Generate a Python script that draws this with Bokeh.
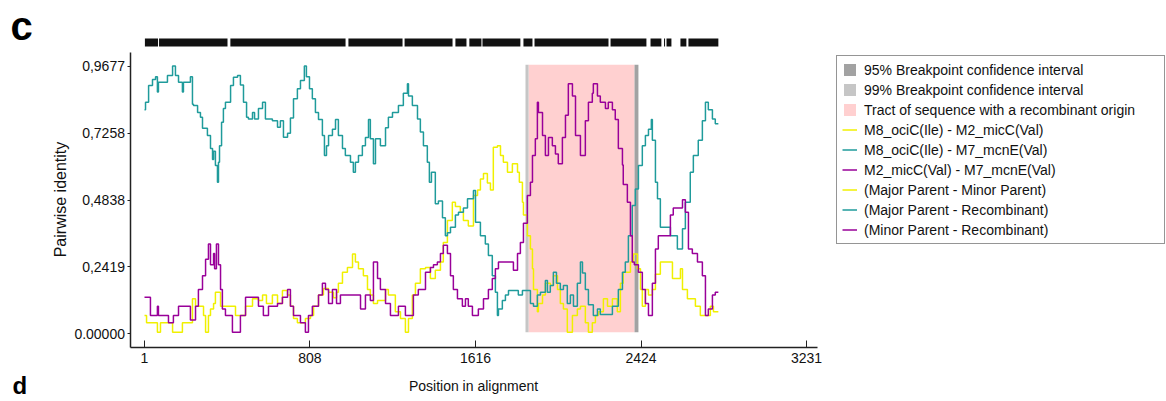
import math
from bokeh.plotting import figure
from bokeh.models import Range1d, FixedTicker, Legend, LegendItem, Label
from bokeh.embed import file_html
from bokeh.resources import INLINE

# ---------------- data ----------------
x_ticks = [1, 808, 1616, 2424, 3231]
y_ticks = [0.0, 0.2419, 0.4838, 0.7258, 0.9677]
y_tick_labels = ["0.00000", "0,2419", "0,4838", "0,7258", "0,9677"]

# (Major Parent - Recombinant)  teal
teal_x = [1, 6, 21, 40, 55, 64, 69, 113, 138, 152,
          167, 186, 191, 225, 235, 240, 260, 274, 284, 308,
          323, 333, 338, 347, 357, 362, 367, 377, 386, 396,
          421, 435, 455, 469, 484, 499, 508, 528, 538, 557,
          577, 591, 625, 650, 664, 679, 699, 713, 728, 747,
          762, 781, 791, 806, 820, 835, 850, 869, 879, 889,
          899, 918, 933, 947, 967, 981, 1006, 1020, 1030, 1045,
          1064, 1079, 1094, 1103, 1118, 1128, 1152, 1177, 1191, 1211,
          1240, 1264, 1284, 1289, 1308, 1333, 1347, 1362, 1381, 1391,
          1401, 1420, 1435, 1455, 1469, 1479, 1494, 1518, 1533, 1557,
          1577, 1606, 1616, 1640, 1664, 1679, 1698, 1713, 1723, 1728,
          1747, 1762, 1777, 1825, 1845, 1884, 1899, 1918, 1933, 1957,
          1967, 1981, 1996, 2011, 2030, 2045, 2064, 2079, 2094, 2113,
          2128, 2138, 2152, 2167, 2191, 2211, 2225, 2284, 2313, 2333,
          2347, 2362, 2381, 2396, 2411, 2430, 2445, 2460, 2474, 2479,
          2494, 2504, 2518, 2567, 2601, 2626, 2640, 2664, 2679, 2703,
          2723, 2738, 2752, 2772, 2786, 2801]
teal_y = [0.81, 0.837, 0.898, 0.92, 0.93, 0.874, 0.91, 0.934, 0.968, 0.934,
          0.91, 0.874, 0.91, 0.93, 0.83, 0.826, 0.80, 0.783, 0.743, 0.717,
          0.67, 0.63, 0.66, 0.609, 0.548, 0.62, 0.68, 0.765, 0.815, 0.837,
          0.898, 0.928, 0.934, 0.90, 0.837, 0.783, 0.777, 0.80, 0.777, 0.815,
          0.837, 0.777, 0.77, 0.747, 0.77, 0.711, 0.725, 0.78, 0.85, 0.886,
          0.916, 0.968, 0.93, 0.886, 0.85, 0.80, 0.775, 0.717, 0.645, 0.68,
          0.717, 0.74, 0.775, 0.717, 0.67, 0.645, 0.62, 0.584, 0.62, 0.645,
          0.68, 0.71, 0.775, 0.705, 0.615, 0.705, 0.68, 0.745, 0.783, 0.80,
          0.826, 0.87, 0.904, 0.86, 0.826, 0.777, 0.73, 0.68, 0.62, 0.548,
          0.584, 0.47, 0.48, 0.42, 0.355, 0.365, 0.385, 0.43, 0.44, 0.455,
          0.488, 0.518, 0.403, 0.355, 0.325, 0.283, 0.21, 0.15, 0.066, 0.09,
          0.12, 0.14, 0.157, 0.14, 0.157, 0.11, 0.10, 0.14, 0.15, 0.193,
          0.15, 0.175, 0.223, 0.183, 0.16, 0.175, 0.11, 0.14, 0.10, 0.183,
          0.26, 0.22, 0.16, 0.105, 0.066, 0.09, 0.07, 0.10, 0.16, 0.223,
          0.26, 0.355, 0.464, 0.524, 0.609, 0.68, 0.717, 0.74, 0.775, 0.70,
          0.548, 0.488, 0.385, 0.355, 0.307, 0.38, 0.476, 0.584, 0.645, 0.70,
          0.77, 0.837, 0.81, 0.777, 0.76, 0.76]

# (Major Parent - Minor Parent)  yellow
yellow_x = [1, 11, 64, 79, 138, 186, 235, 250, 289, 299,
            313, 323, 338, 347, 372, 445, 494, 528, 557, 577,
            596, 625, 650, 674, 699, 713, 728, 747, 786, 811,
            826, 850, 874, 899, 923, 938, 947, 967, 991, 1016,
            1030, 1045, 1069, 1089, 1103, 1118, 1138, 1177, 1191, 1225,
            1250, 1274, 1289, 1308, 1323, 1347, 1372, 1396, 1420, 1445,
            1459, 1479, 1503, 1518, 1542, 1557, 1581, 1606, 1626, 1640,
            1655, 1674, 1689, 1703, 1723, 1738, 1752, 1772, 1796, 1821,
            1830, 1845, 1850, 1869, 1884, 1894, 1899, 1918, 1923, 1943,
            1957, 1981, 1996, 2016, 2030, 2045, 2064, 2089, 2113, 2128,
            2152, 2167, 2186, 2201, 2216, 2240, 2260, 2284, 2308, 2323,
            2337, 2372, 2386, 2406, 2421, 2430, 2445, 2460, 2479, 2494,
            2518, 2577, 2616, 2626, 2650, 2689, 2713, 2762, 2777, 2801]
yellow_y = [0.066, 0.04, 0.006, 0.04, 0.006, 0.04, 0.127, 0.10, 0.066, 0.006,
            0.066, 0.09, 0.11, 0.15, 0.10, 0.066, 0.10, 0.127, 0.12, 0.14,
            0.11, 0.14, 0.11, 0.157, 0.14, 0.10, 0.055, 0.04, 0.055, 0.066,
            0.10, 0.14, 0.164, 0.15, 0.13, 0.15, 0.183, 0.223, 0.24, 0.289,
            0.26, 0.235, 0.21, 0.16, 0.14, 0.11, 0.12, 0.16, 0.14, 0.08,
            0.055, 0.006, 0.055, 0.14, 0.183, 0.235, 0.24, 0.20, 0.23, 0.26,
            0.33, 0.41, 0.476, 0.46, 0.44, 0.41, 0.39, 0.50, 0.52, 0.56,
            0.58, 0.545, 0.52, 0.675, 0.68, 0.645, 0.62, 0.584, 0.615, 0.584,
            0.548, 0.476, 0.43, 0.355, 0.307, 0.235, 0.16, 0.08, 0.11, 0.14,
            0.183, 0.175, 0.21, 0.16, 0.11, 0.09, 0.006, 0.066, 0.09, 0.10,
            0.04, 0.006, 0.04, 0.066, 0.08, 0.127, 0.10, 0.127, 0.08, 0.183,
            0.223, 0.26, 0.289, 0.235, 0.16, 0.10, 0.16, 0.14, 0.16, 0.215,
            0.26, 0.20, 0.235, 0.16, 0.127, 0.10, 0.066, 0.10, 0.08, 0.08]

# (Minor Parent - Recombinant)  purple
purple_x = [1, 30, 64, 69, 118, 142, 167, 225, 250, 264,
            284, 299, 313, 323, 338, 343, 352, 362, 372, 381,
            396, 430, 469, 494, 557, 581, 606, 650, 674, 699,
            713, 728, 762, 786, 801, 820, 850, 869, 884, 899,
            918, 938, 957, 1055, 1079, 1103, 1118, 1138, 1152, 1177,
            1201, 1240, 1274, 1313, 1337, 1372, 1396, 1411, 1430, 1445,
            1459, 1479, 1494, 1508, 1528, 1552, 1567, 1581, 1601, 1630,
            1655, 1679, 1698, 1713, 1728, 1801, 1821, 1835, 1850, 1869,
            1884, 1894, 1908, 1918, 1923, 1943, 1957, 1972, 1991, 2006,
            2020, 2040, 2055, 2069, 2089, 2104, 2128, 2152, 2167, 2186,
            2191, 2211, 2225, 2250, 2264, 2284, 2298, 2313, 2333, 2337,
            2357, 2372, 2381, 2391, 2411, 2430, 2445, 2460, 2479, 2494,
            2508, 2567, 2581, 2626, 2640, 2655, 2674, 2699, 2723, 2738,
            2752, 2772, 2786, 2801]
purple_y = [0.132, 0.066, 0.10, 0.066, 0.04, 0.066, 0.10, 0.05, 0.10, 0.16,
            0.21, 0.27, 0.325, 0.25, 0.29, 0.235, 0.325, 0.25, 0.16, 0.09,
            0.066, 0.006, 0.066, 0.132, 0.10, 0.066, 0.10, 0.11, 0.132, 0.16,
            0.10, 0.066, 0.04, 0.006, 0.066, 0.10, 0.14, 0.183, 0.16, 0.11,
            0.16, 0.11, 0.14, 0.09, 0.14, 0.12, 0.26, 0.20, 0.16, 0.11,
            0.066, 0.10, 0.066, 0.14, 0.16, 0.223, 0.24, 0.25, 0.26, 0.29,
            0.32, 0.29, 0.21, 0.16, 0.127, 0.10, 0.127, 0.10, 0.066, 0.09,
            0.127, 0.16, 0.20, 0.235, 0.26, 0.23, 0.29, 0.33, 0.40, 0.50,
            0.548, 0.645, 0.705, 0.837, 0.80, 0.717, 0.645, 0.71, 0.68, 0.65,
            0.615, 0.71, 0.79, 0.904, 0.86, 0.717, 0.645, 0.77, 0.837, 0.87,
            0.904, 0.86, 0.837, 0.815, 0.837, 0.81, 0.775, 0.67, 0.61, 0.54,
            0.476, 0.355, 0.26, 0.25, 0.223, 0.16, 0.11, 0.066, 0.183, 0.307,
            0.355, 0.43, 0.455, 0.485, 0.44, 0.307, 0.29, 0.26, 0.21, 0.066,
            0.09, 0.14, 0.15, 0.15]

# informative sites bar above the plot (runs of sites)
site_start = [3, 72, 420, 996, 1270, 1518, 1586, 1650, 1850, 1904, 2275, 2470, 2536, 2548, 2616, 2655]
site_end = [67, 406, 982, 1260, 1504, 1572, 1645, 1835, 1894, 2265, 2450, 2523, 2541, 2572, 2645, 2801]

# recombination region
tract = (1875, 2392)
ci99 = (1860, 1875)
ci95 = (2392, 2411)
region_y = (0.006, 0.973)

legend_labels = ["95% Breakpoint confidence interval",
                 "99% Breakpoint confidence interval",
                 "Tract of sequence with a recombinant origin",
                 "M8_ociC(Ile) - M2_micC(Val)",
                 "M8_ociC(Ile) - M7_mcnE(Val)",
                 "M2_micC(Val) - M7_mcnE(Val)",
                 "(Major Parent - Minor Parent)",
                 "(Major Parent - Recombinant)",
                 "(Minor Parent - Recombinant)"]

# ---------------- styling ----------------
FONT = "Liberation Sans"
YELLOW = "#f0f000"
TEAL = "#1f9b9b"
PURPLE = "#990099"
W, H = 1166, 401

X0, X1 = -701.6, 4987.6
Y0, Y1 = -0.2448, 1.2053
X_AXIS_AT = -0.0485     # y value where the x axis line sits
Y_AXIS_AT = -64.9       # x value where the y axis line sits

p = figure(width=W, height=H, output_backend="svg", toolbar_location=None,
           x_range=Range1d(X0, X1), y_range=Range1d(Y0, Y1),
           min_border_left=0, min_border_right=0, min_border_top=0,
           min_border_bottom=0)
p.outline_line_color = None
p.grid.visible = False
p.background_fill_color = "white"
p.border_fill_color = "white"

# region rectangles
r_tract = p.quad(left=[tract[0]], right=[tract[1]], bottom=[region_y[0]], top=[region_y[1]],
                 fill_color="#ffd0d0", line_color=None)
r99 = p.quad(left=[ci99[0]], right=[ci99[1]], bottom=[region_y[0]], top=[region_y[1]],
             fill_color="#c6c6c6", line_color=None)
r95 = p.quad(left=[ci95[0]], right=[ci95[1]], bottom=[region_y[0]], top=[region_y[1]],
             fill_color="#a2a2a2", line_color=None)

# sites bar
p.quad(left=site_start, right=site_end, bottom=1.039, top=1.068,
       fill_color="#111111", line_color=None)

# lines
ry = p.step(yellow_x, yellow_y, mode="after", line_color=YELLOW, line_width=1.5)
rt = p.step(teal_x, teal_y, mode="after", line_color=TEAL, line_width=1.5)
rp = p.step(purple_x, purple_y, mode="after", line_color=PURPLE, line_width=1.5)

# axes (fixed inside the canvas-wide frame)
xa = p.xaxis[0]
xa.fixed_location = X_AXIS_AT
xa.ticker = FixedTicker(ticks=x_ticks)
xa.bounds = (Y_AXIS_AT, 3285)
xa.major_label_text_font = FONT
xa.major_label_text_font_size = "14px"
xa.major_label_text_color = "#111111"
xa.major_label_standoff = 6
xa.major_tick_in = 7
xa.major_tick_out = 0
xa.minor_tick_line_color = None
xa.axis_line_color = "#222222"
xa.axis_line_width = 1.5
xa.major_tick_line_color = "#222222"

ya = p.yaxis[0]
ya.fixed_location = Y_AXIS_AT
ya.ticker = FixedTicker(ticks=y_ticks)
ya.major_label_overrides = {t: s for t, s in zip(y_ticks, y_tick_labels)}
ya.bounds = (X_AXIS_AT, 1.0183)
ya.major_label_text_font = FONT
ya.major_label_text_font_size = "14px"
ya.major_label_text_color = "#111111"
ya.major_label_standoff = 3
ya.major_tick_in = 0
ya.major_tick_out = 3
ya.minor_tick_line_color = None
ya.axis_line_color = "#222222"
ya.axis_line_width = 1.5
ya.major_tick_line_color = "#222222"

# axis titles
p.add_layout(Label(x=60, y=202, x_units="screen", y_units="screen", text="Pairwise identity",
                   angle=math.pi / 2, text_align="center", text_baseline="middle",
                   text_font=FONT, text_font_size="16px", text_color="#111111"))
p.add_layout(Label(x=473, y=16, x_units="screen", y_units="screen", text="Position in alignment",
                   text_align="center", text_baseline="middle",
                   text_font=FONT, text_font_size="14px", text_color="#111111"))

# legend
renderers = [r95, r99, r_tract, ry, rt, rp, ry, rt, rp]
items = [LegendItem(label=lab, renderers=[r]) for lab, r in zip(legend_labels, renderers)]
legend = Legend(items=items, location=(836, 157), orientation="vertical",
                label_text_font=FONT, label_text_font_size="14px", label_text_color="#111111",
                glyph_width=15, glyph_height=15, label_height=17, spacing=3,
                padding=5, margin=0, label_standoff=7, label_width=295,
                border_line_color="#2b2b2b", border_line_width=1.5,
                background_fill_color="white", background_fill_alpha=1.0)
p.add_layout(legend)

# panel letters
p.add_layout(Label(x=10, y=H - 25, x_units="screen", y_units="screen", text="c",
                   text_font=FONT, text_font_size="40px", text_font_style="bold",
                   text_color="#000000", text_baseline="alphabetic"))
p.add_layout(Label(x=12, y=16, x_units="screen", y_units="screen", text="d",
                   text_font=FONT, text_font_size="24px", text_font_style="bold",
                   text_color="#000000", text_baseline="alphabetic"))

open("out.html", "w").write(file_html(p, INLINE))
